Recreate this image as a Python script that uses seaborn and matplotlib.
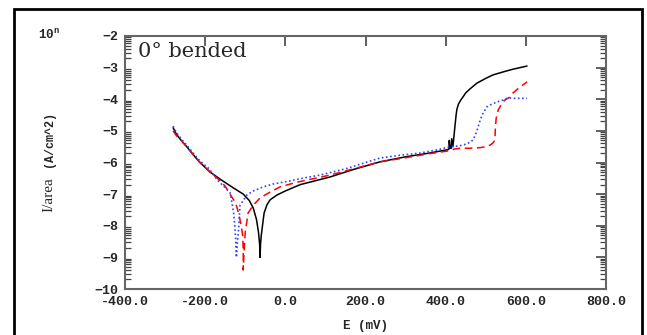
import numpy as np
import pandas as pd
import seaborn as sns
import matplotlib.pyplot as plt
from matplotlib.patches import Rectangle
from matplotlib.ticker import FixedLocator

# polarization curves, E in mV, log10 of current density
e_black = [-280, -272, -260, -246, -230, -213, -188, -160, -130, -105, -90, -80, -72, -67, -64, -63,
           -62, -60, -57, -53, -46, -38, -21, 0, 37, 111, 170, 236, 300, 360, 403, 408, 409, 411,
           414, 415, 418, 422, 424, 426, 428, 432, 438, 443, 450, 460, 478, 500, 518, 545, 568, 603]
logi_black = [-4.9, -5.1, -5.3, -5.5, -5.75, -6.0, -6.3, -6.55, -6.8, -7.0, -7.2, -7.44, -7.8, -8.2, -8.6, -9.0,
              -8.6, -8.3, -8.0, -7.6, -7.34, -7.18, -7.03, -6.9, -6.7, -6.46, -6.22, -5.98, -5.82, -5.7, -5.6, -5.58, -5.3, -5.55,
              -5.55, -5.25, -5.5, -5.0, -4.75, -4.5, -4.32, -4.15, -4.02, -3.93, -3.8, -3.68, -3.49, -3.34, -3.23, -3.13, -3.05, -2.95]

e_red = [-280, -272, -260, -246, -230, -213, -188, -165, -150, -138, -128, -121, -115, -110, -106, -105,
         -105, -103, -100, -93, -80, -63, -40, -13, 30, 111, 170, 236, 300, 360, 403, 420, 436, 460,
         486, 500, 511, 518, 523, 524, 526, 531, 541, 548, 558, 568, 585, 603]
logi_red = [-5.0, -5.15, -5.3, -5.5, -5.75, -6.0, -6.3, -6.55, -6.75, -7.0, -7.2, -7.4, -7.7, -8.0, -8.35, -8.9,
            -9.4, -8.8, -8.2, -7.6, -7.35, -7.12, -6.95, -6.77, -6.62, -6.4, -6.2, -5.98, -5.85, -5.72, -5.64, -5.58, -5.55, -5.55,
            -5.53, -5.5, -5.45, -5.38, -5.29, -4.9, -4.6, -4.34, -4.12, -4.02, -3.95, -3.8, -3.62, -3.45]

e_blue = [-280, -272, -260, -246, -230, -213, -190, -170, -150, -138, -133, -129, -126, -124, -123, -122,
          -120, -116, -113, -105, -96, -80, -55, -30, 12, 50, 86, 150, 236, 280, 336, 380, 411, 430,
          443, 455, 468, 475, 481, 486, 491, 498, 503, 511, 525, 536, 545, 553, 560, 570, 585, 603]
logi_blue = [-4.85, -5.05, -5.25, -5.45, -5.7, -5.95, -6.2, -6.55, -6.8, -6.95, -7.28, -7.6, -8.03, -8.4, -8.8, -9.0,
             -8.6, -8.0, -7.35, -7.2, -7.03, -6.9, -6.77, -6.68, -6.58, -6.48, -6.4, -6.2, -5.86, -5.78, -5.7, -5.6, -5.5, -5.48,
             -5.45, -5.4, -5.29, -5.1, -4.88, -4.66, -4.5, -4.34, -4.24, -4.18, -4.1, -4.05, -4.02, -3.97, -3.96, -3.97, -3.97, -3.97]

x_ticks = [-400, -200, 0, 200, 400, 600, 800]
y_ticks = [-10, -9, -8, -7, -6, -5, -4, -3, -2]

sns.set_style("white")
plt.rcParams['font.family'] = ['Liberation Mono', 'DejaVu Sans Mono']

fig = plt.figure(figsize=(6.47, 3.35), dpi=100)
ax = fig.add_axes([125/647, 1-289/335, 481/647, 253/335])

curves = [(e_black, logi_black, 'black', '-', 1.1),
          (e_red, logi_red, '#ff0000', (0, (5, 3)), 1.1),
          (e_blue, logi_blue, '#3344ff', (0, (1, 1.5)), 1.2)]
for e, li, c, ls, lw in curves:
    df = pd.DataFrame({'E': e, 'logI': li})
    sns.lineplot(data=df, x='E', y='logI', sort=False, estimator=None, color=c,
                 linestyle=ls, linewidth=lw, ax=ax)

ax.set_xlim(-400, 800)
ax.set_ylim(-10, -2)
ax.set_xticks(x_ticks)
ax.set_xticklabels([f'{v:.1f}' for v in x_ticks], fontweight='bold', fontsize=9.5)
ax.set_yticks(y_ticks)
ax.set_yticklabels([f'{v}'.replace('-', '\u2212') for v in y_ticks], fontweight='bold', fontsize=9.5)

minor = [d + np.log10(k) for d in range(-10, -2) for k in range(2, 10)]
ax.yaxis.set_minor_locator(FixedLocator(minor))

ax.tick_params(axis='both', which='major', direction='in', length=7, width=1.2, color='#444444',
               top=True, right=True, pad=5)
ax.tick_params(axis='y', which='minor', direction='in', length=4, width=0.9, color='#444444',
               left=True, right=True)
for s in ax.spines.values():
    s.set_color('#666666')
    s.set_linewidth(1.5)

ax.set_xlabel('E (mV)', fontsize=9, fontweight='bold', labelpad=9)
ax.set_ylabel('')

# y label: serif "I/area" and mono "(A/cm^2)"
fig.text(52/647, 1-212/335, 'I/area', rotation=90, fontsize=11, family='Liberation Serif',
         ha='left', va='baseline', rotation_mode='anchor')
fig.text(52/647, 1-167/335, '(A/cm^2)', rotation=90, fontsize=8.5, fontweight='bold',
         ha='left', va='baseline', rotation_mode='anchor')

ax.text(13/481, (289-57)/253, '0° bended', transform=ax.transAxes, fontsize=15,
        family='DejaVu Serif', va='baseline', ha='left')
fig.text(38/647, 1-39/335, '10$^{\\mathregular{n}}$', fontsize=9, fontweight='bold', va='baseline')

fig.patches.append(Rectangle((14/647, -0.1), (642-14)/647, 1-9/335+0.1, transform=fig.transFigure,
                             fill=False, edgecolor='black', linewidth=2, clip_on=False))

fig.savefig('out.png', dpi=100)
